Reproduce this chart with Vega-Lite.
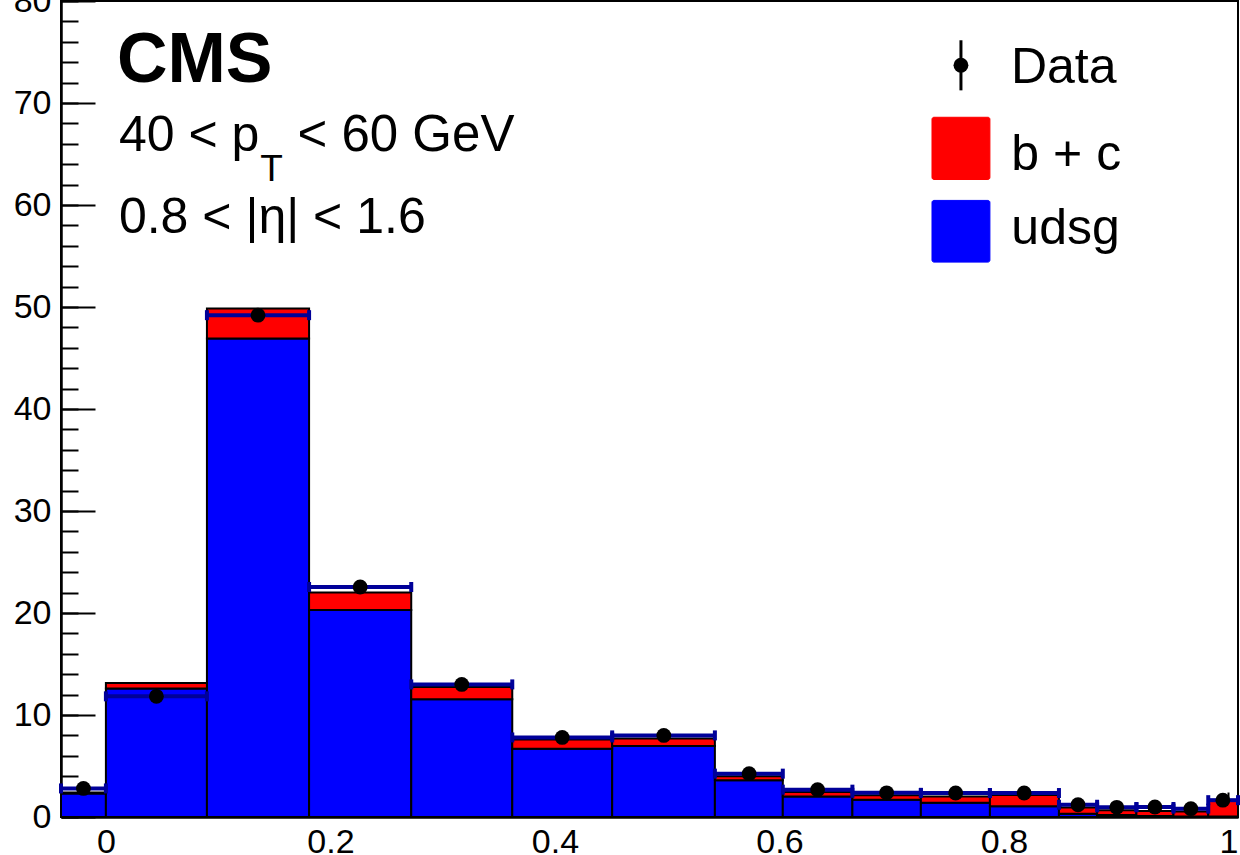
{
  "$schema": "https://vega.github.io/schema/vega-lite/v6.json",
  "width": 1177,
  "height": 816,
  "autosize": {"type": "none"},
  "padding": {"left": 61, "top": 1, "right": 2, "bottom": 38},
  "background": "white",
  "config": {
    "view": {"stroke": "black", "strokeWidth": 2},
    "font": "Liberation Sans",
    "axis": {"grid": false, "title": null, "domainColor": "black", "domainWidth": 2, "tickColor": "black", "tickWidth": 2, "labelColor": "black", "labelFont": "Liberation Sans", "labelFontSize": 34, "zindex": 1}
  },
  "datasets": {
    "bins": [
      {"lo": -0.04, "hi": 0, "xc": -0.02, "udsg": 2.3, "tot": 2.4, "data": 2.8},
      {"lo": 0, "hi": 0.09, "xc": 0.045, "udsg": 12.6, "tot": 13.14, "data": 11.83},
      {"lo": 0.09, "hi": 0.181, "xc": 0.1355, "udsg": 46.9, "tot": 49.85, "data": 49.2},
      {"lo": 0.181, "hi": 0.272, "xc": 0.2265, "udsg": 20.3, "tot": 22.0, "data": 22.55},
      {"lo": 0.272, "hi": 0.362, "xc": 0.317, "udsg": 11.55, "tot": 12.75, "data": 13.0},
      {"lo": 0.362, "hi": 0.451, "xc": 0.4065, "udsg": 6.7, "tot": 7.6, "data": 7.8},
      {"lo": 0.451, "hi": 0.5425, "xc": 0.497, "udsg": 6.95, "tot": 7.7, "data": 8.0},
      {"lo": 0.5425, "hi": 0.603, "xc": 0.573, "udsg": 3.6, "tot": 4.0, "data": 4.25},
      {"lo": 0.603, "hi": 0.665, "xc": 0.634, "udsg": 2.0, "tot": 2.45, "data": 2.68},
      {"lo": 0.665, "hi": 0.726, "xc": 0.6955, "udsg": 1.68, "tot": 2.13, "data": 2.37},
      {"lo": 0.726, "hi": 0.7875, "xc": 0.757, "udsg": 1.4, "tot": 2.0, "data": 2.35},
      {"lo": 0.7875, "hi": 0.849, "xc": 0.818, "udsg": 1.05, "tot": 2.15, "data": 2.35},
      {"lo": 0.849, "hi": 0.883, "xc": 0.866, "udsg": 0.33, "tot": 0.92, "data": 1.2},
      {"lo": 0.883, "hi": 0.918, "xc": 0.9005, "udsg": 0.2, "tot": 0.66, "data": 0.95},
      {"lo": 0.918, "hi": 0.951, "xc": 0.9345, "udsg": 0.1, "tot": 0.6, "data": 0.98},
      {"lo": 0.951, "hi": 0.982, "xc": 0.9665, "udsg": 0.05, "tot": 0.55, "data": 0.82},
      {"lo": 0.982, "hi": 1.0085, "xc": 0.995, "udsg": 0.05, "tot": 1.6, "data": 1.65}
    ]
  },
  "layer": [
    {
      "data": {"name": "bins"},
      "mark": {"type": "bar", "fill": "#0000ff", "stroke": "black", "strokeWidth": 2, "cornerRadius": 0},
      "encoding": {
        "x": {"field": "lo", "type": "quantitative", "scale": {"domain": [-0.04, 1.0085], "nice": false, "zero": false},
              "axis": {"orient": "bottom", "values": [0, 0.05, 0.1, 0.15, 0.2, 0.25, 0.3, 0.35, 0.4, 0.45, 0.5, 0.55, 0.6, 0.65, 0.7, 0.75, 0.8, 0.85, 0.9, 0.95, 1.0], "labels": false, "tickSize": -13}},
        "x2": {"field": "hi"},
        "y": {"field": "udsg", "type": "quantitative", "scale": {"domain": [0, 80], "nice": false, "zero": true},
              "axis": {"orient": "left", "values": [0, 2, 4, 6, 8, 10, 12, 14, 16, 18, 20, 22, 24, 26, 28, 30, 32, 34, 36, 38, 40, 42, 44, 46, 48, 50, 52, 54, 56, 58, 60, 62, 64, 66, 68, 70, 72, 74, 76, 78, 80], "labels": false, "tickSize": -17}},
        "y2": {"datum": 0}
      }
    },
    {
      "data": {"name": "bins"},
      "mark": {"type": "bar", "fill": "#ff0000", "stroke": "black", "strokeWidth": 2, "cornerRadius": 0},
      "encoding": {
        "x": {"field": "lo", "type": "quantitative", "axis": null},
        "x2": {"field": "hi"},
        "y": {"field": "tot", "type": "quantitative", "axis": null},
        "y2": {"field": "udsg"}
      }
    },
    {
      "data": {"name": "bins"},
      "mark": {"type": "rule", "color": "#000099", "strokeWidth": 4},
      "encoding": {
        "x": {"field": "lo", "type": "quantitative", "axis": null},
        "x2": {"field": "hi"},
        "y": {"field": "data", "type": "quantitative", "axis": null}
      }
    },
    {
      "data": {"name": "bins"},
      "mark": {"type": "tick", "orient": "vertical", "color": "#000099", "size": 10, "thickness": 4, "opacity": 1},
      "encoding": {
        "x": {"field": "lo", "type": "quantitative", "axis": null},
        "y": {"field": "data", "type": "quantitative", "axis": null}
      }
    },
    {
      "data": {"name": "bins"},
      "mark": {"type": "tick", "orient": "vertical", "color": "#000099", "size": 10, "thickness": 4, "opacity": 1},
      "encoding": {
        "x": {"field": "hi", "type": "quantitative", "axis": null},
        "y": {"field": "data", "type": "quantitative", "axis": null}
      }
    },
    {
      "data": {"name": "bins"},
      "mark": {"type": "point", "shape": "circle", "filled": true, "color": "black", "size": 220, "opacity": 1},
      "encoding": {
        "x": {"field": "xc", "type": "quantitative",
              "axis": {"orient": "bottom", "values": [0, 0.2, 0.4, 0.6, 0.8, 1], "format": "~g", "tickSize": -25, "labelPadding": 33, "labelFontSize": 34, "labelFont": "Liberation Sans"}},
        "y": {"field": "data", "type": "quantitative",
              "axis": {"orient": "left", "values": [0, 10, 20, 30, 40, 50, 60, 70, 80], "tickSize": -34, "labelPadding": 44, "labelFontSize": 34, "labelFont": "Liberation Sans"}}
      }
    },
    {
      "data": {"values": [{}]},
      "mark": {"type": "text", "text": "CMS", "font": "Liberation Sans", "fontWeight": "bold", "fontSize": 70, "align": "left", "baseline": "alphabetic", "color": "black"},
      "encoding": {"x": {"datum": 0.0098, "type": "quantitative", "axis": null}, "y": {"datum": 72.03, "type": "quantitative", "axis": null}}
    },
    {
      "data": {"values": [{}]},
      "mark": {"type": "text", "text": "40 < p", "fontSize": 50, "align": "left", "baseline": "alphabetic", "color": "black"},
      "encoding": {"x": {"datum": 0.0116, "type": "quantitative", "axis": null}, "y": {"datum": 65.3, "type": "quantitative", "axis": null}}
    },
    {
      "data": {"values": [{}]},
      "mark": {"type": "text", "text": "T", "fontSize": 37, "align": "left", "baseline": "alphabetic", "color": "black"},
      "encoding": {"x": {"datum": 0.1375, "type": "quantitative", "axis": null}, "y": {"datum": 62.4, "type": "quantitative", "axis": null}}
    },
    {
      "data": {"values": [{}]},
      "mark": {"type": "text", "text": "< 60 GeV", "fontSize": 51, "align": "left", "baseline": "alphabetic", "color": "black"},
      "encoding": {"x": {"datum": 0.1707, "type": "quantitative", "axis": null}, "y": {"datum": 65.3, "type": "quantitative", "axis": null}}
    },
    {
      "data": {"values": [{}]},
      "mark": {"type": "text", "text": "0.8 < |η| < 1.6", "fontSize": 50, "align": "left", "baseline": "alphabetic", "color": "black"},
      "encoding": {"x": {"datum": 0.0116, "type": "quantitative", "axis": null}, "y": {"datum": 57.3, "type": "quantitative", "axis": null}}
    },
    {
      "data": {"values": [{}]},
      "mark": {"type": "rect", "fill": "#ff0000", "stroke": "#ff0000", "strokeWidth": 1, "cornerRadius": 2},
      "encoding": {"x": {"datum": 0.7359, "type": "quantitative", "axis": null}, "x2": {"datum": 0.7875}, "y": {"datum": 68.6, "type": "quantitative", "axis": null}, "y2": {"datum": 62.5}}
    },
    {
      "data": {"values": [{}]},
      "mark": {"type": "rect", "fill": "#0000ff", "stroke": "#0000ff", "strokeWidth": 1, "cornerRadius": 2},
      "encoding": {"x": {"datum": 0.7359, "type": "quantitative", "axis": null}, "x2": {"datum": 0.7875}, "y": {"datum": 60.45, "type": "quantitative", "axis": null}, "y2": {"datum": 54.4}}
    },
    {
      "data": {"values": [{}]},
      "mark": {"type": "rule", "color": "black", "strokeWidth": 3},
      "encoding": {"x": {"datum": 0.7617, "type": "quantitative", "axis": null}, "y": {"datum": 76.15, "type": "quantitative", "axis": null}, "y2": {"datum": 71.24}}
    },
    {
      "data": {"values": [{}]},
      "mark": {"type": "point", "shape": "circle", "filled": true, "color": "black", "size": 220, "opacity": 1},
      "encoding": {"x": {"datum": 0.7617, "type": "quantitative", "axis": null}, "y": {"datum": 73.7, "type": "quantitative", "axis": null}}
    },
    {
      "data": {"values": [{}]},
      "mark": {"type": "text", "text": "Data", "fontSize": 50, "align": "left", "baseline": "alphabetic", "color": "black"},
      "encoding": {"x": {"datum": 0.8062, "type": "quantitative", "axis": null}, "y": {"datum": 71.93, "type": "quantitative", "axis": null}}
    },
    {
      "data": {"values": [{}]},
      "mark": {"type": "text", "text": "b + c", "fontSize": 50, "align": "left", "baseline": "alphabetic", "color": "black"},
      "encoding": {"x": {"datum": 0.8066, "type": "quantitative", "axis": null}, "y": {"datum": 63.4, "type": "quantitative", "axis": null}}
    },
    {
      "data": {"values": [{}]},
      "mark": {"type": "text", "text": "udsg", "fontSize": 50, "align": "left", "baseline": "alphabetic", "color": "black"},
      "encoding": {"x": {"datum": 0.8066, "type": "quantitative", "axis": null}, "y": {"datum": 56.2, "type": "quantitative", "axis": null}}
    }
  ],
  "resolve": {"axis": {"x": "independent", "y": "independent"}}
}
